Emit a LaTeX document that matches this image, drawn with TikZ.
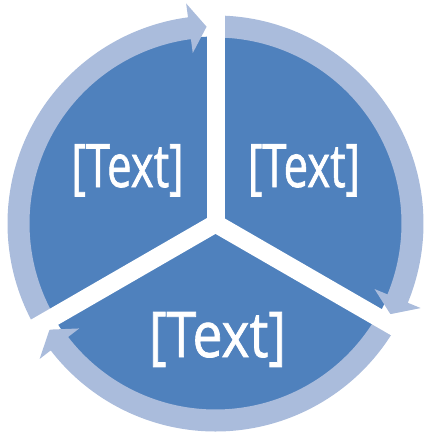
\documentclass[tikz,border=0pt]{standalone}
\usepackage{fontspec}
\setmainfont{Open Sans}
\newfontfamily\lblfont[FakeBold=1.2]{Open Sans}
\definecolor{pieblue}{RGB}{79,129,189}
\definecolor{ringblue}{RGB}{170,188,220}
\begin{document}
\begin{tikzpicture}[x=1pt,y=1pt,
  piedisc/.style={fill=pieblue},
  ringseg/.style={fill=ringblue},
  gapline/.style={draw=white, line width=18pt},
  lbl/.style={text=white, inner sep=0pt, anchor=base}]
\useasboundingbox (0,0) rectangle (435,-444);
\coordinate (C) at (215.5,-223.5);
\begin{scope}[shift={(C)}]
  \fill[piedisc] (0,0) circle (187);
  \foreach \s/\t in {90/-27.4, -30/-147.4, 210/92.6} {
    \pgfmathsetmacro\b{\t+5}
    \fill[ringseg] (\s:208) arc[start angle=\s, end angle=\b, radius=208]
      -- (\b:222) -- (\t:197) -- (\b:172) -- (\b:186)
      arc[start angle=\b, end angle=\s, radius=186] -- cycle;
  }
  \coordinate (g1) at (90:240);
  \coordinate (g2) at (210:240);
  \coordinate (g3) at (330:240);
\end{scope}
\draw[gapline] (C) -- (g1);
\draw[gapline] (C) -- (g2);
\draw[gapline] (C) -- (g3);
\fill[white] (C) circle (9);
\node[lbl, font=\lblfont\fontsize{60}{60}\selectfont] (t1) at (127.5,-187) {\scalebox{0.73}[1]{[Text]}};
\node[lbl, font=\lblfont\fontsize{60}{60}\selectfont] (t2) at (304,-187) {\scalebox{0.73}[1]{[Text]}};
\node[lbl, font=\lblfont\fontsize{63}{63}\selectfont] (t3) at (217.5,-357) {\scalebox{0.85}[1]{[Text]}};
\end{tikzpicture}
\end{document}
